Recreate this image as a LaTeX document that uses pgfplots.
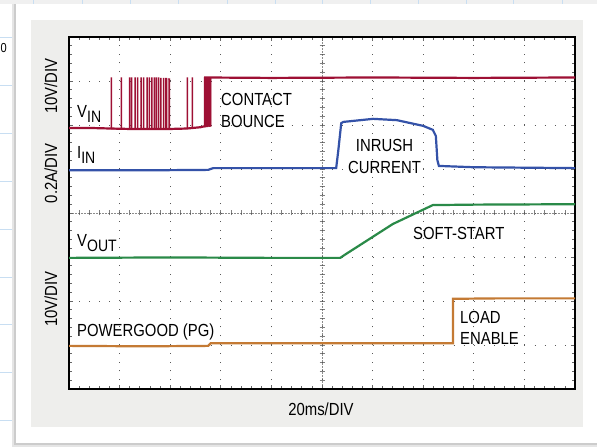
\documentclass[border=0pt]{standalone}
\usepackage{fontspec}
\setmainfont{Liberation Sans}[FakeStretch=0.85]
\usepackage{pgfplots}
\pgfplotsset{compat=1.18}
\definecolor{vin}{RGB}{158,16,52}
\definecolor{iin}{RGB}{52,82,168}
\definecolor{vout}{RGB}{42,138,72}
\definecolor{pg}{RGB}{196,122,52}
\definecolor{panel}{RGB}{238,238,236}
\definecolor{sheet}{RGB}{200,222,242}
\newcommand\lab{\fontsize{17.5}{21}\selectfont}
\newcommand\sub[1]{\raisebox{-4.5pt}{\fontsize{16.5}{18}\selectfont #1}}
\begin{document}
\begin{tikzpicture}[x=1pt,y=1pt]
\useasboundingbox (0,0) rectangle (597,447);
\fill[white] (0,0) rectangle (597,447);
\fill[black!6] (0,443) rectangle (597,447);
\foreach \x in {33,82,130,178,227,275,322,370,418,466,513,562} \draw[sheet, line width=0.8pt] (\x,0) -- (\x,447);
\foreach \y in {37,85,133,181,229,277,324,372,420} \draw[sheet, line width=0.8pt] (0,{447-\y}) -- (16,{447-\y});
% card shadow and card
\fill[black!10] (12,0) rectangle (597,443);
\fill[black!20] (14,1.5) rectangle (597,443);
\fill[white] (16,4) rectangle (597,443);
% panel
\fill[panel] (31,20) rectangle (583,427);
\fill[white] (69,58) rectangle (575,410);
% crosshair
\draw[black!45, line width=0.7pt, dash pattern=on 2pt off 1pt] (69,234) -- (575,234);
\draw[black!45, line width=0.7pt, dash pattern=on 2pt off 1pt] (322,58) -- (322,410);
\foreach \i in {1,...,49} \draw[black!50, line width=0.7pt] ({69+\i*10.12},231.5) -- ++(0,5);
\foreach \j in {1,...,39} \draw[black!50, line width=0.7pt] (319.5,{58+\j*8.8}) -- ++(5,0);
\begin{axis}[at={(69pt,58pt)}, anchor=south west, scale only axis,
  width=506pt, height=352pt, xmin=0, xmax=10, ymin=0, ymax=8,
  xtick={0,...,10}, ytick={0,...,8}, xticklabels={}, yticklabels={},
  minor x tick num=4, minor y tick num=4,
  major tick length=4pt, minor tick length=3pt,
  tick style={black!60, line width=0.7pt},
  xtick pos=both, ytick pos=both,
  grid=major,
  x grid style={black!65, line width=0.9pt, dash pattern=on 0.9pt off 7.9pt},
  y grid style={black!65, line width=0.9pt, dash pattern=on 0.9pt off 9.22pt},
  axis line style={black, line width=2pt},
]
% PG
\addplot[pg, line width=2.2pt] coordinates {
(0,0.98) (1.5,0.97) (2.75,0.98) (2.8,1.04) (5,1.04) (7.59,1.04) (7.59,2.05) (8.5,2.06) (10,2.06)};
% VOUT
\addplot[vout, line width=2.2pt] coordinates {
(0,2.98) (2,2.99) (4,2.98) (5.36,2.98) (5.45,3.05) (6.4,3.75) (7.19,4.18) (8,4.19) (10,4.2)};
% IIN
\addplot[iin, line width=2.2pt] coordinates {
(0,4.97) (1.5,4.97) (2.75,4.98) (2.85,5.02) (4.5,5.02) (5.28,5.02)
(5.32,5.4) (5.38,6.04) (5.42,6.07) (6.01,6.14) (6.48,6.11) (7.0,5.98)
(7.19,5.89) (7.25,5.75) (7.28,5.2) (7.31,5.07) (8,5.04) (10,5.02)};
% VIN low and high levels
\addplot[vin, line width=2.2pt] coordinates {
(0,5.93) (0.5,5.93) (0.83,5.92) (1.2,5.91) (1.6,5.91) (2.0,5.91) (2.33,5.92) (2.6,5.95) (2.67,5.97)};
\addplot[vin, line width=2.2pt] coordinates {
(2.67,7.08) (4,7.07) (6,7.08) (8,7.07) (10,7.08)};
% VIN bounce spikes
\addplot[vin, line width=0.9pt] coordinates {
(0.83,5.92) (0.83,7.07) (0.842,7.07) (0.842,5.91)
(1.028,5.91) (1.028,7.07) (1.04,7.07) (1.04,5.91)
(1.19,5.91) (1.19,7.07) (1.202,7.07) (1.202,5.91)
(1.23,5.91) (1.23,7.07) (1.242,7.07) (1.242,5.9)
(1.30,5.9) (1.30,7.07) (1.312,7.07) (1.312,5.91)
(1.35,5.91) (1.35,7.07) (1.362,7.07) (1.362,5.91)
(1.417,5.91) (1.417,7.07) (1.429,7.07) (1.429,5.9)
(1.468,5.9) (1.468,7.07) (1.48,7.07) (1.48,5.91)
(1.536,5.91) (1.536,7.07) (1.548,7.07) (1.548,5.9)
(1.581,5.9) (1.581,7.07) (1.593,7.07) (1.593,5.91)
(1.634,5.91) (1.634,7.07) (1.646,7.07) (1.646,5.9)
(1.68,5.9) (1.68,7.07) (1.692,7.07) (1.692,5.91)
(1.719,5.91) (1.719,7.07) (1.731,7.07) (1.731,5.9)
(1.765,5.9) (1.765,7.07) (1.777,7.07) (1.777,5.91)
(1.812,5.91) (1.812,7.06) (1.824,7.06) (1.824,5.9)
(1.864,5.9) (1.864,7.06) (1.876,7.06) (1.876,5.91)
(1.911,5.91) (1.911,7.06) (1.93,7.06) (1.93,5.91)
(1.962,5.91) (1.962,7.05) (1.99,7.05) (1.99,5.91)
(2.332,5.92) (2.332,7.07) (2.344,7.07) (2.344,5.92)
(2.43,5.92) (2.43,7.07) (2.442,7.07) (2.442,5.93)};
\addplot[vin, fill=vin, line width=0.6pt] coordinates {
(2.67,5.95) (2.67,7.08) (2.81,7.08) (2.81,5.97)} -- cycle;
\end{axis}
% labels
\node[anchor=base west, inner sep=0] at (77,329) {\lab V\sub{IN}};
\node[anchor=base west, inner sep=0] at (221,341) {\lab CONTACT};
\node[anchor=base west, inner sep=0] at (221,319.5) {\lab BOUNCE};
\node[anchor=base west, inner sep=0] at (77,288) {\lab I\sub{IN}};
\node[anchor=base, inner sep=0] at (384.5,295) {\lab INRUSH};
\node[anchor=base, inner sep=0] at (384.5,273) {\lab CURRENT};
\node[anchor=base west, inner sep=0] at (77,200) {\lab V\sub{OUT}};
\node[anchor=base west, inner sep=0] at (413,207) {\lab SOFT-START};
\node[anchor=base west, inner sep=0] at (77,110) {\lab POWERGOOD (PG)};
\node[anchor=base west, inner sep=0] at (460,123) {\lab LOAD};
\node[anchor=base west, inner sep=0] at (460,102) {\lab ENABLE};
\node[anchor=base, inner sep=0] at (321,31) {\lab 20ms/DIV};
\node[anchor=base, rotate=90, inner sep=0] at (57,361) {\lab 10V/DIV};
\node[anchor=base, rotate=90, inner sep=0] at (57,273.5) {\lab 0.2A/DIV};
\node[anchor=base, rotate=90, inner sep=0] at (57,148) {\lab 10V/DIV};
\node[anchor=base west, inner sep=0] at (0.5,394) {\fontsize{13}{15}\selectfont 0};
\end{tikzpicture}
\end{document}
